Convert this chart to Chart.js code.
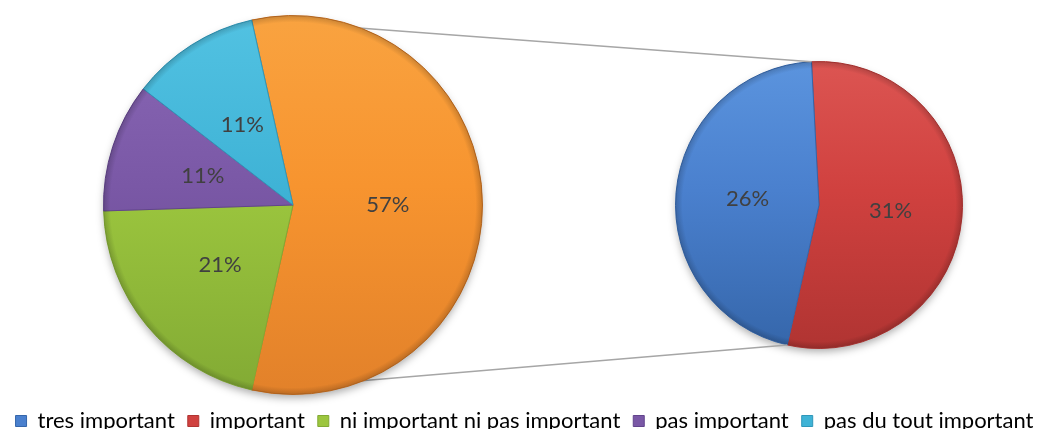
<!DOCTYPE html>
<html>
<head>
<meta charset="utf-8">
<script src="https://cdn.jsdelivr.net/npm/chart.js@4.4.1/dist/chart.umd.min.js"></script>
<style>
  html, body { margin: 0; padding: 0; background: #fff; }
  #wrap { position: relative; width: 1049px; height: 429px; }
  #wrap canvas { position: absolute; left: 0; top: 0; }
</style>
</head>
<body>
<div id="wrap">
  <canvas id="subPie" width="1049" height="429"></canvas>
  <canvas id="mainPie" width="1049" height="429"></canvas>
</div>
<script>
// answers, in legend order
const categories = ['tres important', 'important', 'ni important ni pas important', 'pas important', 'pas du tout important'];
const shares = [26, 31, 21, 11, 11];

// slice colours: flat, lighter top, darker bottom
const baseColors  = ['#4a80ce', '#d0413f', '#9cc63e', '#7a58a6', '#3fb3d6'];
const lightColors = ['#5b94de', '#dc5552', '#aed34f', '#8a68b6', '#52c2e2'];
const darkColors  = ['#3566aa', '#b03432', '#82aa34', '#62448c', '#2f97b9'];

// the first two answers are grouped into one slice of the big pie
const splitIdx = [1, 0];
const mainIdx = [2, 3, 4];
const otherColor = { base: '#f7942f', light: '#f9a340', dark: '#e2812a', edge: '#c46e22' };

const total = shares.reduce((a, b) => a + b, 0);

Chart.defaults.font.family = 'Lato, "Open Sans", sans-serif';
Chart.defaults.color = '#404040';

// vertical gradient over the pie square, one set of stops per slice
function shaded(stops) {
  return (ctx) => {
    const s = stops[ctx.dataIndex];
    const a = ctx.chart.chartArea;
    if (!a || !s) return s ? s.base : '#ccc';
    const g = ctx.chart.ctx.createLinearGradient(0, a.top, 0, a.bottom);
    g.addColorStop(0, s.light);
    g.addColorStop(0.45, s.base);
    g.addColorStop(1, s.dark);
    return g;
  };
}
const stopsFor = i => ({ base: baseColors[i], light: lightColors[i], dark: darkColors[i] });

// puts the pie inside a fixed square instead of the whole canvas
const pieBox = {
  id: 'pieBox',
  afterLayout(chart, args, opts) {
    const r = opts.r;
    chart.chartArea = {
      left: opts.cx - r, top: opts.cy - r,
      right: opts.cx + r, bottom: opts.cy + r,
      width: 2 * r, height: 2 * r
    };
  }
};

const pieShadow = {
  id: 'pieShadow',
  beforeDatasetsDraw(chart) {
    const arc = chart.getDatasetMeta(0).data[0];
    if (!arc) return;
    const ctx = chart.ctx;
    ctx.save();
    ctx.shadowColor = 'rgba(0,0,0,0.35)';
    ctx.shadowBlur = 9;
    ctx.shadowOffsetY = 4;
    ctx.fillStyle = '#ffffff';
    ctx.beginPath();
    ctx.arc(arc.x, arc.y, arc.outerRadius - 1, 0, Math.PI * 2);
    ctx.fill();
    ctx.restore();
  },
  // soft darker rim around the edge
  afterDatasetsDraw(chart) {
    const arc = chart.getDatasetMeta(0).data[0];
    if (!arc) return;
    const ctx = chart.ctx;
    const r = arc.outerRadius;
    const g = ctx.createRadialGradient(arc.x, arc.y, r - 7, arc.x, arc.y, r);
    g.addColorStop(0, 'rgba(0,0,0,0)');
    g.addColorStop(1, 'rgba(0,0,0,0.18)');
    ctx.save();
    ctx.fillStyle = g;
    ctx.beginPath();
    ctx.arc(arc.x, arc.y, r, 0, Math.PI * 2);
    ctx.arc(arc.x, arc.y, r - 7, 0, Math.PI * 2, true);
    ctx.fill();
    ctx.restore();
  }
};

const pctLabels = {
  id: 'pctLabels',
  afterDatasetsDraw(chart) {
    const ctx = chart.ctx;
    const values = chart.data.datasets[0].data;
    ctx.save();
    ctx.font = '22px ' + Chart.defaults.font.family;
    ctx.fillStyle = '#404040';
    ctx.textAlign = 'center';
    ctx.textBaseline = 'middle';
    chart.getDatasetMeta(0).data.forEach((arc, i) => {
      const p = arc.tooltipPosition();
      ctx.fillText(Math.round(values[i] / total * 100) + '%', p.x, p.y);
    });
    ctx.restore();
  }
};

// lines from the grouped slice to the small pie
const connectors = {
  id: 'connectors',
  beforeDatasetsDraw(chart) {
    const sub = Chart.getChart('subPie');
    if (!sub) return;
    const big = chart.getDatasetMeta(0).data[0];
    const first = sub.getDatasetMeta(0).data[0];
    const pt = (arc, ang) => [arc.x + arc.outerRadius * Math.cos(ang), arc.y + arc.outerRadius * Math.sin(ang)];
    const ctx = chart.ctx;
    ctx.save();
    ctx.strokeStyle = '#a6a6a6';
    ctx.lineWidth = 1.5;
    [[pt(big, big.startAngle), pt(first, first.startAngle)],
     [pt(big, big.endAngle), pt(first, first.endAngle)]].forEach(([a, b]) => {
      ctx.beginPath();
      ctx.moveTo(a[0], a[1]);
      ctx.lineTo(b[0], b[1]);
      ctx.stroke();
    });
    ctx.restore();
  }
};

const subStops = splitIdx.map(stopsFor);
new Chart(document.getElementById('subPie'), {
  type: 'pie',
  data: {
    labels: splitIdx.map(i => categories[i]),
    datasets: [{
      data: splitIdx.map(i => shares[i]),
      backgroundColor: shaded(subStops),
      borderColor: splitIdx.map(i => darkColors[i]),
      borderWidth: 1
    }]
  },
  options: {
    responsive: false,
    animation: false,
    events: [],
    rotation: -3,
    plugins: {
      pieBox: { cx: 819, cy: 205, r: 144 },
      legend: { display: false },
      tooltip: { enabled: false }
    }
  },
  plugins: [pieBox, pieShadow, pctLabels]
});

const mainStops = [otherColor].concat(mainIdx.map(stopsFor));
new Chart(document.getElementById('mainPie'), {
  type: 'pie',
  data: {
    labels: ['autre'].concat(mainIdx.map(i => categories[i])),
    datasets: [{
      data: [splitIdx.reduce((s, i) => s + shares[i], 0)].concat(mainIdx.map(i => shares[i])),
      backgroundColor: shaded(mainStops),
      borderColor: [otherColor.edge].concat(mainIdx.map(i => darkColors[i])),
      borderWidth: 1
    }]
  },
  options: {
    responsive: false,
    animation: false,
    events: [],
    rotation: -12.6,
    layout: { padding: { bottom: -13 } },
    plugins: {
      pieBox: { cx: 293, cy: 205, r: 190 },
      tooltip: { enabled: false },
      legend: {
        position: 'bottom',
        onClick: null,
        labels: {
          boxWidth: 11,
          boxHeight: 11,
          padding: 13,
          color: '#404040',
          font: { size: 22 },
          generateLabels: () => categories.map((c, i) => ({
            text: c,
            fillStyle: baseColors[i],
            strokeStyle: darkColors[i],
            lineWidth: 1,
            hidden: false,
            index: i
          }))
        }
      }
    }
  },
  plugins: [connectors, pieBox, pieShadow, pctLabels]
});
</script>
</body>
</html>
